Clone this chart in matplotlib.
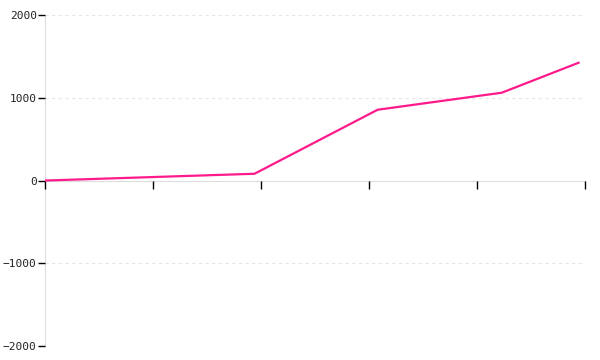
import matplotlib
matplotlib.use("Agg")
import matplotlib.pyplot as plt

# values
x_vals = [0.0, 1.94, 3.08, 4.23, 4.94]
y_vals = [0, 82, 856, 1062, 1424]
x_ticks = [0, 1, 2, 3, 4, 5]
y_ticks = [-2000, -1000, 0, 1000, 2000]

fig = plt.figure(figsize=(6, 3.6), dpi=100)
ax = fig.add_axes([0.075, 0.039, 0.9, 0.919])

ax.plot(x_vals, y_vals, color="#ff1a8c", linewidth=1.6, solid_joinstyle="miter", zorder=3)

ax.set_xlim(0, 5)
ax.set_ylim(-2000, 2000)
ax.set_yticks(y_ticks)
ax.set_xticks(x_ticks)
ax.set_xticklabels([])
ax.set_yticklabels([str(v).replace("-", "\u2212") for v in y_ticks],
                   fontsize=8, family="DejaVu Sans Mono", color="#222222")

for v in y_ticks:
    if v != 0:
        ax.axhline(v, color="#e6e6e6", linewidth=0.8, linestyle=(0, (3, 3)), zorder=0)

for side in ["top", "right"]:
    ax.spines[side].set_visible(False)
ax.spines["left"].set_color("#dddddd")
ax.spines["left"].set_zorder(0.5)
ax.spines["bottom"].set_position(("data", 0))
ax.spines["bottom"].set_color("#dddddd")
ax.spines["bottom"].set_zorder(0.5)
ax.tick_params(axis="y", length=5, width=1, color="black", pad=1)
ax.tick_params(axis="x", length=6, width=1, color="black", direction="out")

fig.savefig("out.png", dpi=100)
